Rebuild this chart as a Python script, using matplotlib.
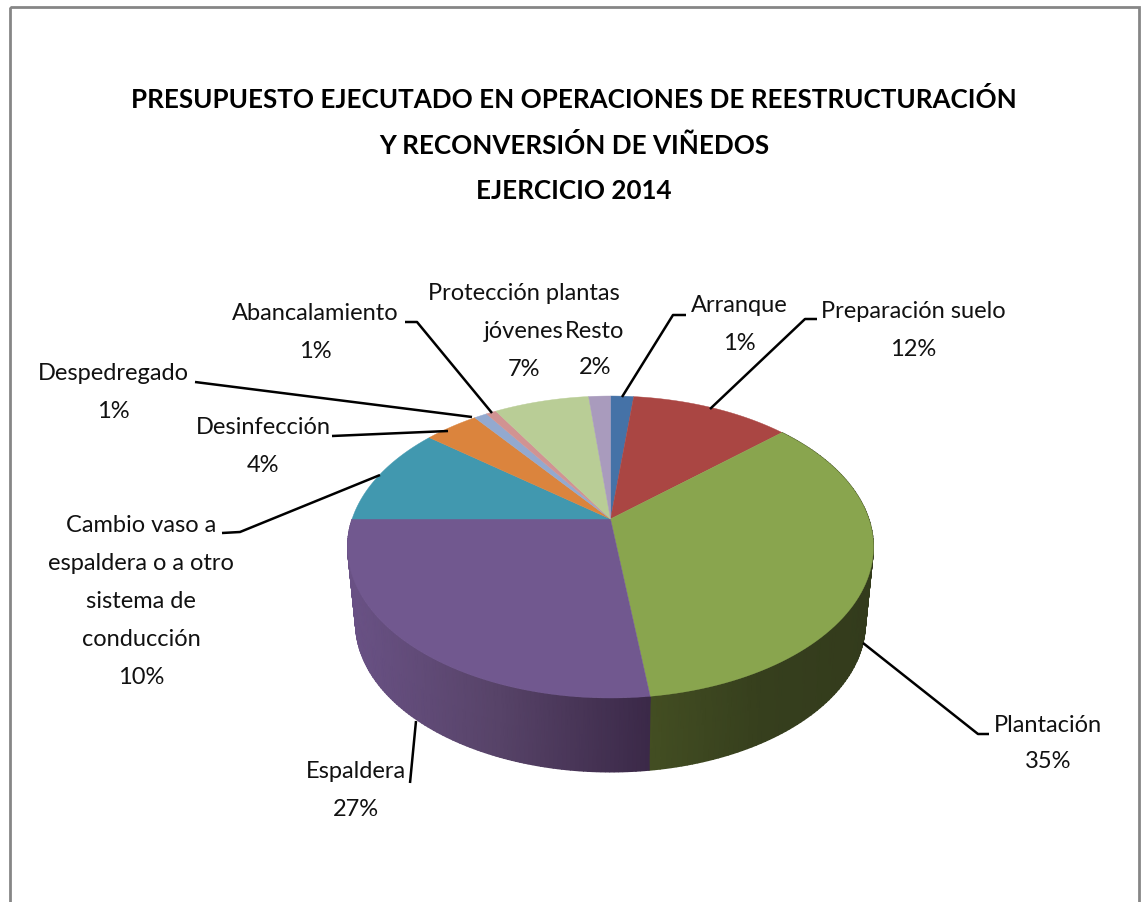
import numpy as np
import matplotlib
matplotlib.use('Agg')
import matplotlib.pyplot as plt
from matplotlib.colors import LinearSegmentedColormap, Normalize
from matplotlib.patches import Rectangle

# Data (clockwise from 12 o'clock)
categories = ['Arranque', 'Preparación suelo', 'Plantación', 'Espaldera',
              'Cambio vaso a\nespaldera o a otro\nsistema de\nconducción',
              'Desinfección', 'Despedregado', 'Abancalamiento',
              'Protección plantas\njóvenes', 'Resto']
values = [1.7, 11.7, 34.6, 27.0, 10.7, 4.0, 0.95, 0.75, 7.0, 1.6]
pct_labels = ['1%', '12%', '35%', '27%', '10%', '4%', '1%', '1%', '7%', '2%']
title_lines = ['PRESUPUESTO EJECUTADO EN OPERACIONES DE REESTRUCTURACIÓN',
               'Y RECONVERSIÓN DE VIÑEDOS',
               'EJERCICIO 2014']

colors = ['#4572A7', '#AA4643', '#89A54E', '#71588F', '#4198AF',
          '#DB843D', '#93A9CF', '#D19392', '#B9CD96', '#A99BBD']
# Only these two slices show their side wall
side_colors = {2: ['#434E22', '#363F1D', '#333B1C'],
               3: ['#6A5286', '#574368', '#3B2948']}

# Label layout: centre x, y of first line
label_pos = [(739, 306), (913, 311), (1048, 726), (356, 772), (141, 525),
             (263, 428), (113, 373), (315, 313), (524, 293), (595, 332)]
line_gap = [37, 39, 35, 37, 38, 37, 39, 38, 38, 36]
leaders = [[(622, 397), (673, 315), (686, 315)],
           [(710, 409), (805, 319), (817, 319)],
           [(863, 643), (978, 734), (989, 734)],
           [(416, 721), (410, 783)],
           [(380, 475), (240, 532), (222, 533)],
           [(448, 431), (332, 436)],
           [(472, 417), (195, 382)],
           [(492, 413), (417, 322), (405, 322)]]

# Pie geometry in pixels: perspective disc
cx, cy = 610.5, 519
k, R, S = 0.1855, 258.4, 145.8
ell_cy, ell_rx, ell_ry = 547, 263, 151
bot_cy, bot_rx, bot_ry = 623, 255, 149


def rim(theta):
    w = 1 + k * np.cos(theta)
    return cx + R * np.sin(theta) / w, cy - S * np.cos(theta) / w


plt.rcParams['font.family'] = ['Lato', 'DejaVu Sans']
fig = plt.figure(figsize=(11.43, 9.02), dpi=100)
ax = fig.add_axes([0, 0, 1, 1])
ax.set_xlim(0, 1143)
ax.set_ylim(902, 0)
ax.axis('off')

ax.add_patch(Rectangle((9.5, 6.5), 1129, 1000, fill=False, ec='#868686', lw=2))

edges = np.radians(np.cumsum([0] + values) / sum(values) * 360)

# Side walls first
for i, shades in side_colors.items():
    theta = np.linspace(edges[i], edges[i + 1], 120)
    x_top, y_top = rim(theta)
    x_bot = cx + (x_top - cx) * bot_rx / ell_rx
    y_bot = bot_cy + (y_top - ell_cy) * bot_ry / ell_ry
    X = np.vstack([x_top, x_bot])
    Y = np.vstack([y_top, y_bot])
    cmap = LinearSegmentedColormap.from_list('side', shades)
    ax.pcolormesh(X, Y, X, shading='gouraud', cmap=cmap,
                  norm=Normalize(X.min(), X.max()), zorder=2)

# Top faces
for i, c in enumerate(colors):
    theta = np.linspace(edges[i], edges[i + 1], 80)
    x, y = rim(theta)
    ax.fill(np.r_[cx, x], np.r_[cy, y], color=c, lw=0.3, zorder=3)

for pts in leaders:
    xs, ys = zip(*pts)
    ax.plot(xs, ys, color='black', lw=1.8, solid_capstyle='butt', zorder=4)

for name, pct, (x, y), gap in zip(categories, pct_labels, label_pos, line_gap):
    for j, line in enumerate(name.split('\n') + [pct]):
        ax.text(x, y + j * gap, line, ha='center', va='center', fontsize=17,
                color='#111111', zorder=5)

for line, y in zip(title_lines, [99, 146, 191]):
    ax.text(574, y, line, ha='center', va='center', fontsize=18.7,
            fontweight='bold', color='black')

fig.savefig('out.png', dpi=100)
